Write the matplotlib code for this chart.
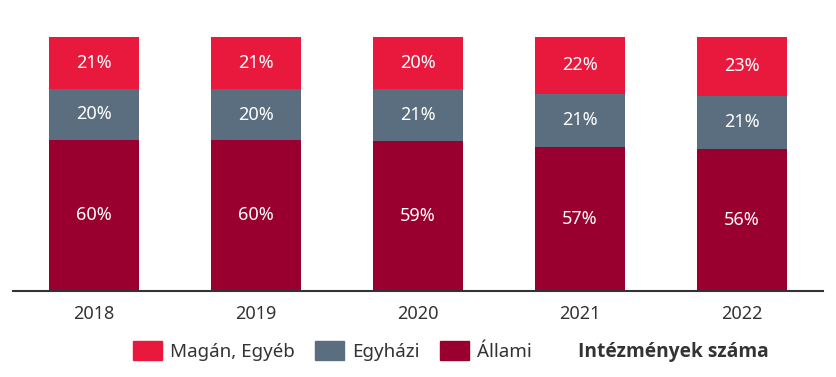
import matplotlib
matplotlib.use('Agg')
import matplotlib.pyplot as plt
from matplotlib.patches import Patch

years = ['2018', '2019', '2020', '2021', '2022']
allami = [59.6, 59.5, 58.9, 56.6, 55.9]
egyhazi = [19.8, 19.9, 20.7, 21.1, 21.0]
magan = [20.6, 20.6, 20.4, 22.3, 23.1]

c_magan = '#E8193C'
c_egyhazi = '#5B6E7F'
c_allami = '#990030'
txt = '#333333'

plt.rcParams['font.family'] = ['Noto Sans', 'DejaVu Sans']

fig = plt.figure(figsize=(8.36, 3.77), dpi=100)
ax = fig.add_axes([13 / 836, 86 / 377, 810 / 836, 254 / 377])

x = range(len(years))
w = 0.56
b1 = ax.bar(x, allami, w, color=c_allami)
b2 = ax.bar(x, egyhazi, w, bottom=allami, color=c_egyhazi)
bottom3 = [a + e for a, e in zip(allami, egyhazi)]
b3 = ax.bar(x, magan, w, bottom=bottom3, color=c_magan)

for bars, vals in ((b1, allami), (b2, egyhazi), (b3, magan)):
    ax.bar_label(bars, labels=['%d%%' % round(v) for v in vals],
                 label_type='center', color='white', fontsize=13)

ax.set_xlim(-0.5, 4.5)
ax.set_ylim(0, 100)
ax.set_xticks(list(x))
ax.set_xticklabels(years, fontsize=13, color=txt)
ax.tick_params(axis='x', length=0, pad=10)
ax.set_yticks([])
for s in ('top', 'right', 'left'):
    ax.spines[s].set_visible(False)
ax.spines['bottom'].set_color('#333333')
ax.spines['bottom'].set_linewidth(1.5)

# legend: three series, then a bold label on its own
handles = [Patch(color=c_magan), Patch(color=c_egyhazi), Patch(color=c_allami)]
labels = ['Magán, Egyéb', 'Egyházi', 'Állami']
leg = fig.legend(handles, labels, ncol=3, loc='center left',
                 bbox_to_anchor=(133 / 836, 1 - 351 / 377), borderaxespad=0, borderpad=0,
                 frameon=False, fontsize=13.5, handlelength=1.55, handleheight=1.2,
                 handletextpad=0.45, columnspacing=1.05)
for t in leg.get_texts():
    t.set_color(txt)

fig.text(578 / 836, 1 - 352 / 377, 'Intézmények száma', fontsize=13.8, fontweight='bold',
         family=['Open Sans', 'DejaVu Sans'], color=txt, va='center', ha='left')

fig.savefig('out.png', dpi=100)
